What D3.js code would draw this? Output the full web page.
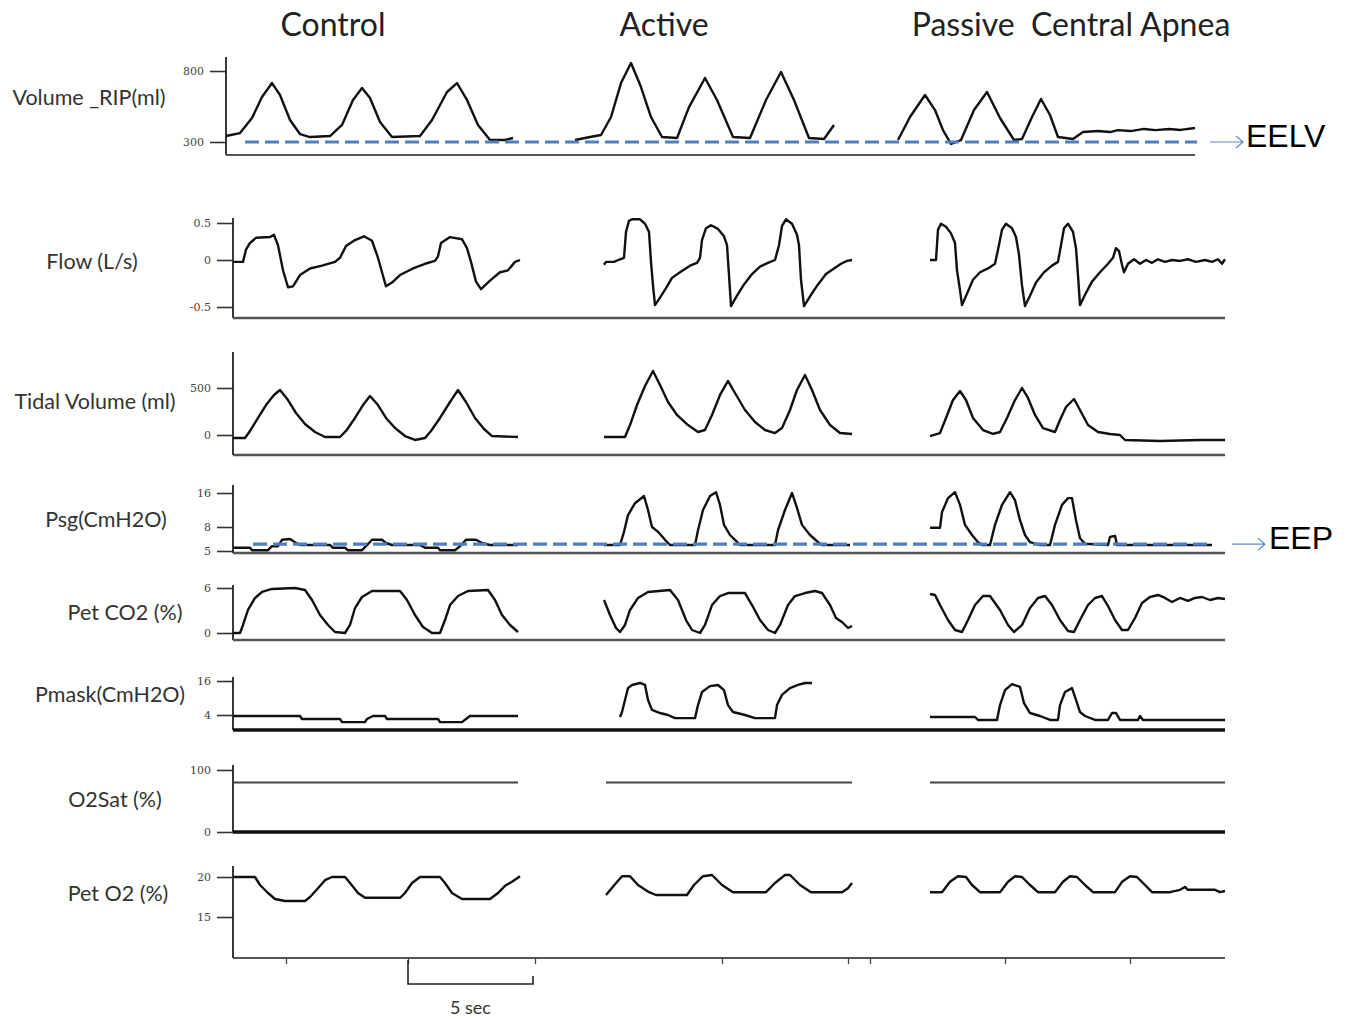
<!DOCTYPE html>
<html>
<head>
<meta charset="utf-8">
<script src="https://cdn.jsdelivr.net/npm/d3@7"></script>
<style>
  body { margin: 0; background: #fff; }
  svg text { font-family: Lato, "Open Sans", sans-serif; }
</style>
</head>
<body>
<svg id="chart" width="1355" height="1019"></svg>
<script>
// phase titles
const titles = ["Control", "Active", "Passive  Central Apnea"];
const titleX = [333, 664, 1071];

// traces: [time (s), value]
const volControl = [[-0.28,342],[0.28,363],[0.76,469],[1.16,617],[1.56,715],[1.88,631],[2.28,455],[2.68,356],[3.08,335],[3.88,342],[4.36,420],[4.8,596],[5.16,680],[5.48,610],[5.88,441],[6.36,335],[7.48,342],[7.96,455],[8.56,652],[8.96,715],[9.36,596],[9.8,420],[10.28,314],[10.88,314],[11.2,328]];
const volActive = [[13.68,314],[14.28,335],[14.72,349],[15.12,476],[15.52,715],[15.92,856],[16.32,687],[16.72,476],[17.16,335],[17.76,328],[18.24,546],[18.88,751],[19.36,596],[20,335],[20.68,328],[21.32,596],[21.92,793],[22.44,596],[23.04,328],[23.64,321],[24.04,420]];
const volPassive = [[26.6,314],[27.08,476],[27.68,631],[28.08,525],[28.4,384],[28.72,286],[29.12,314],[29.64,525],[30.16,652],[30.68,469],[31.24,314],[31.56,321],[31.96,476],[32.32,603],[32.68,490],[33,335],[33.6,321],[34,370],[34.6,377],[35.08,370],[35.4,384],[35.9,377],[36.44,392],[36.9,384],[37.44,392],[37.9,385],[38.48,399]];

const flowControl = [[0,-0.02],[0.4,-0.02],[0.52,0.14],[0.68,0.23],[0.92,0.3],[1.48,0.31],[1.64,0.34],[1.8,0.2],[2,-0.11],[2.2,-0.29],[2.4,-0.28],[2.68,-0.16],[3.08,-0.09],[3.56,-0.06],[4.08,-0.02],[4.28,0.03],[4.52,0.19],[4.88,0.27],[5.24,0.32],[5.56,0.26],[5.8,0.03],[5.96,-0.13],[6.12,-0.28],[6.36,-0.24],[6.68,-0.16],[7.2,-0.09],[7.68,-0.04],[8.08,-0.01],[8.2,0.05],[8.32,0.23],[8.68,0.31],[9.16,0.28],[9.36,0.16],[9.52,-0.02],[9.72,-0.23],[9.92,-0.31],[10.28,-0.22],[10.68,-0.13],[11,-0.11],[11.28,-0.02],[11.48,0]];
const flowActive = [[14.84,-0.05],[14.92,-0.02],[15.24,-0.02],[15.48,0.01],[15.64,0.03],[15.72,0.38],[15.84,0.53],[15.96,0.55],[16.28,0.55],[16.48,0.49],[16.64,0.38],[16.72,-0.02],[16.8,-0.27],[16.88,-0.48],[17.08,-0.4],[17.32,-0.3],[17.56,-0.19],[17.88,-0.13],[18.28,-0.06],[18.56,-0.03],[18.68,0.03],[18.76,0.27],[18.92,0.43],[19.12,0.47],[19.4,0.42],[19.64,0.32],[19.76,0.2],[19.84,-0.16],[19.92,-0.49],[20.16,-0.38],[20.44,-0.26],[20.76,-0.15],[21.08,-0.07],[21.4,-0.03],[21.68,0],[21.84,0.2],[21.96,0.46],[22.12,0.55],[22.36,0.49],[22.56,0.34],[22.64,0.2],[22.72,-0.21],[22.84,-0.49],[23.12,-0.37],[23.4,-0.26],[23.72,-0.15],[24.04,-0.09],[24.32,-0.04],[24.56,-0.01],[24.76,0]];
const flowPassive = [[27.88,0],[28.12,0],[28.2,0.41],[28.32,0.49],[28.52,0.45],[28.72,0.36],[28.88,0.23],[28.96,-0.11],[29.08,-0.32],[29.16,-0.48],[29.36,-0.36],[29.6,-0.21],[29.88,-0.13],[30.2,-0.09],[30.48,-0.04],[30.6,0.14],[30.76,0.41],[30.92,0.49],[31.16,0.43],[31.32,0.31],[31.44,0.07],[31.56,-0.27],[31.68,-0.49],[31.88,-0.38],[32.12,-0.24],[32.44,-0.13],[32.76,-0.06],[33,-0.02],[33.12,0.2],[33.24,0.43],[33.4,0.49],[33.6,0.38],[33.72,0.16],[33.8,-0.16],[33.88,-0.48],[34.08,-0.37],[34.36,-0.23],[34.68,-0.13],[35,-0.04],[35.2,0.03],[35.32,0.16],[35.44,0.12],[35.56,-0.05],[35.64,-0.13],[35.8,-0.04],[36.04,0.01],[36.28,-0.04],[36.52,0],[36.76,-0.03],[37,0.01],[37.28,-0.02],[37.56,0],[37.88,-0.01],[38.2,0.01],[38.52,-0.02],[38.88,0],[39.16,-0.02],[39.4,0.01],[39.56,-0.04],[39.68,0.01]];

const tidalControl = [[0,-32],[0.48,-32],[0.68,43],[1,181],[1.32,319],[1.64,426],[1.88,479],[2.2,372],[2.52,234],[2.88,117],[3.28,32],[3.68,-21],[4.28,-21],[4.52,43],[4.88,181],[5.2,319],[5.48,415],[5.8,319],[6.12,181],[6.48,74],[6.88,-11],[7.28,-53],[7.68,-32],[7.92,43],[8.28,181],[8.68,351],[9,479],[9.32,351],[9.68,181],[10.04,64],[10.36,-11],[11.4,-21]];
const tidalActive = [[14.84,-21],[15.68,-21],[15.88,106],[16.16,319],[16.48,521],[16.8,681],[17.08,532],[17.4,351],[17.76,213],[18.2,106],[18.6,32],[18.88,53],[19.16,213],[19.48,426],[19.8,575],[20.08,447],[20.48,266],[20.88,138],[21.28,53],[21.68,21],[21.96,74],[22.28,266],[22.56,479],[22.88,638],[23.16,479],[23.48,266],[23.88,106],[24.28,21],[24.76,11]];
const tidalPassive = [[27.88,-11],[28.28,21],[28.52,181],[28.8,372],[29.08,468],[29.32,372],[29.6,181],[30,53],[30.4,11],[30.68,32],[30.96,181],[31.28,372],[31.56,500],[31.8,394],[32.08,213],[32.4,74],[32.88,32],[33.08,160],[33.32,298],[33.64,383],[33.88,266],[34.2,106],[34.6,32],[35.08,11],[35.48,0],[35.68,-53],[37.08,-64],[38.68,-53],[39.68,-53]];

const psgControl = [[0,5.4],[0.68,5.4],[0.76,5.1],[1.4,5.1],[1.56,5.6],[1.8,5.6],[1.96,6.4],[2.28,6.5],[2.48,6.1],[2.68,5.75],[3.88,5.75],[4,5.4],[4.48,5.4],[4.6,5.1],[5.16,5.1],[5.32,5.6],[5.56,6.4],[5.96,6.4],[6.12,6],[6.36,5.75],[7.48,5.75],[7.68,5.4],[8.2,5.4],[8.28,5.1],[8.88,5.1],[9.08,5.6],[9.32,6.4],[9.72,6.4],[9.96,6],[10.28,5.75],[11.4,5.75]];
const psgActive = [[14.84,5.75],[15.48,5.75],[15.64,7.4],[15.8,10.8],[16.08,13.6],[16.44,15.3],[16.6,12],[16.76,8],[17,7.4],[17.28,6.4],[17.48,5.75],[18.48,5.75],[18.6,7.6],[18.8,12],[19.08,15.3],[19.32,16.2],[19.48,13.2],[19.64,8.5],[19.88,7],[20.08,6.4],[20.28,5.75],[21.68,5.75],[21.8,7.6],[22.08,12],[22.36,16],[22.56,12.5],[22.76,8.5],[23.08,7],[23.4,6.1],[23.56,5.75],[24.68,5.75]];
const psgPassive = [[27.88,7.9],[28.28,7.9],[28.36,11.5],[28.6,14.8],[28.88,16.2],[29.08,13.2],[29.28,8.5],[29.56,7],[29.8,6.1],[29.96,5.75],[30.28,5.75],[30.48,8.5],[30.76,13.2],[31.08,16.2],[31.28,14.3],[31.48,9.6],[31.68,7],[31.88,6.1],[32.28,5.75],[32.68,5.75],[32.88,8.5],[33.16,13.2],[33.4,14.8],[33.56,14.8],[33.72,9.6],[33.88,6.6],[34.08,5.9],[35,5.75],[35.08,6.75],[35.28,6.9],[35.36,5.75],[39.16,5.75]];

const co2Control = [[0,0],[0.28,0],[0.4,1.07],[0.6,3.07],[0.88,4.67],[1.16,5.47],[1.56,5.87],[2.48,6],[2.88,5.73],[3.16,4.4],[3.48,2.4],[3.8,1.07],[4.08,0.13],[4.48,0],[4.68,1.07],[4.88,3.33],[5.16,4.8],[5.56,5.6],[6.68,5.6],[6.96,4.4],[7.28,2.4],[7.6,0.8],[7.96,0],[8.28,0],[8.48,1.73],[8.68,3.73],[9,4.93],[9.4,5.6],[10.2,5.73],[10.48,4.4],[10.76,2.4],[11.08,1.07],[11.4,0.13]];
const co2Active = [[14.84,4.4],[15.08,2.4],[15.32,0.67],[15.48,0.13],[15.68,1.07],[15.88,3.07],[16.2,4.67],[16.6,5.47],[17.48,5.73],[17.8,4.4],[18.12,1.73],[18.36,0.4],[18.68,0],[18.88,1.07],[19.16,3.73],[19.48,4.93],[19.8,5.33],[20.48,5.33],[20.76,3.73],[21.08,1.73],[21.4,0.4],[21.68,0],[21.88,1.07],[22.2,3.73],[22.48,4.93],[22.88,5.33],[23.28,5.6],[23.56,5.33],[23.88,3.73],[24.12,2],[24.36,1.47],[24.6,0.67],[24.76,0.93]];
const co2Passive = [[27.88,5.2],[28.08,5.07],[28.28,3.73],[28.6,1.73],[28.88,0.4],[29.16,0.13],[29.4,1.73],[29.68,3.73],[30,4.93],[30.28,4.93],[30.68,3.07],[31,1.07],[31.24,0.13],[31.56,1.07],[31.88,3.33],[32.2,4.67],[32.48,4.93],[32.76,3.73],[33.08,1.73],[33.4,0.27],[33.64,0.13],[33.88,1.73],[34.2,3.73],[34.48,4.67],[34.76,4.93],[35,3.6],[35.28,1.73],[35.56,0.4],[35.8,0.4],[36.08,2],[36.36,4],[36.68,4.8],[37,5.07],[37.28,4.67],[37.56,4.13],[37.88,4.67],[38.2,4.27],[38.48,4.67],[38.76,4.8],[39.08,4.4],[39.4,4.67],[39.68,4.53]];

const pmaskControl = [[0,3.65],[2.68,3.65],[2.76,2.6],[4.28,2.6],[4.36,1.5],[5.28,1.5],[5.36,2.6],[5.6,3.65],[6.08,3.65],[6.16,2.6],[8.2,2.6],[8.28,1.5],[9.16,1.5],[9.32,2.6],[9.48,3.65],[11.4,3.65]];
const pmaskActive = [[15.48,3.3],[15.56,5.05],[15.68,9.3],[15.8,13.5],[15.96,14.6],[16.28,15.3],[16.48,14.6],[16.6,9.3],[16.76,5.8],[17.08,4.7],[17.4,4],[17.68,2.9],[18.48,2.9],[18.6,7.5],[18.76,12.1],[19.08,14.2],[19.4,14.6],[19.64,12.8],[19.8,7.5],[20,5.05],[20.48,4],[20.88,2.9],[21.68,2.9],[21.76,7.5],[21.96,11.1],[22.28,13.5],[22.6,14.6],[22.88,15.3],[23.16,15.3]];
const pmaskPassive = [[27.88,3.3],[29.68,3.3],[29.8,2.25],[30.56,2.25],[30.68,7.5],[30.88,12.8],[31.16,14.9],[31.48,13.9],[31.64,8.2],[31.88,4.7],[32.28,3.65],[32.68,2.25],[33,2.25],[33.08,7.5],[33.28,12.1],[33.56,13.5],[33.72,9.3],[33.88,5.05],[34.08,3.65],[34.48,2.25],[35,2.25],[35.16,4.7],[35.32,4.7],[35.48,2.25],[36.2,2.25],[36.28,3.65],[36.4,2.25],[39.68,2.25]];

const satControl = [[0,80],[11.4,80]];
const satActive = [[14.92,80],[24.76,80]];
const satPassive = [[27.88,80],[39.68,80]];

const o2Control = [[0,20],[0.88,20],[1.08,19],[1.4,18],[1.68,17.25],[2.08,17],[2.88,17],[3.08,17.5],[3.4,18.6],[3.68,19.6],[3.96,20],[4.48,20],[4.68,19.25],[5,18],[5.28,17.4],[6.68,17.4],[6.88,18],[7.16,19.25],[7.48,20],[8.28,20],[8.48,19.25],[8.76,18],[9.16,17.25],[10.28,17.25],[10.6,18],[10.88,18.9],[11.16,19.4],[11.48,20.1]];
const o2Active = [[14.92,17.75],[15.28,19.1],[15.56,20.1],[15.88,20.1],[16.2,19],[16.64,18.1],[16.92,17.75],[18.16,17.75],[18.44,19],[18.8,20.1],[19.16,20.25],[19.56,19],[20,18.1],[21.32,18.1],[21.68,19.25],[22.08,20.25],[22.28,20.25],[22.68,19],[23.12,18.1],[24.36,18.1],[24.6,18.6],[24.76,19.25]];
const o2Passive = [[27.88,18.1],[28.36,18.1],[28.68,19.4],[29,20.1],[29.32,20],[29.56,19],[29.88,18.1],[30.68,18.1],[31,19.4],[31.28,20.1],[31.56,20],[31.88,19],[32.2,18.1],[32.88,18.1],[33.2,19.4],[33.48,20.1],[33.76,20],[34.08,19],[34.4,18.1],[35.28,18.1],[35.56,19.4],[35.88,20.1],[36.16,20],[36.48,19],[36.76,18.1],[37.48,18.1],[37.88,18.4],[38.08,18.75],[38.2,18.4],[38.68,18.4],[39.28,18.4],[39.48,18.1],[39.68,18.25]];

// axis ticks
const volTicks = [300, 800];
const flowTicks = [-0.5, 0, 0.5];
const tidalTicks = [0, 500];
const psgTicks = [5, 8, 16];
const co2Ticks = [0, 6];
const pmaskTicks = [4, 16];
const satTicks = [0, 100];
const o2Ticks = [15, 20];
const timeTicks = [2.12, 7, 12.08, 19.56, 24.6, 25.48, 30.88, 35.88];
const scaleBar = [7, 12];

// reference levels
const eelv = 300, eep = 5.85;

const svg = d3.select('#chart');
const x = d3.scaleLinear().domain([0, 39.68]).range([233, 1225]);

const panels = [
  {label: 'Volume _RIP(ml)', lx: 89, ly: 100, ax: 226, top: 57, bottom: 155, right: 1195, ticks: volTicks, px: [142, 71], base: 2, series: [volControl, volActive, volPassive]},
  {label: 'Flow (L/s)', lx: 92, ly: 264, ax: 233, top: 218, bottom: 318, right: 1225, ticks: flowTicks, px: [307, 260, 223], base: 2.5, series: [flowControl, flowActive, flowPassive]},
  {label: 'Tidal Volume (ml)', lx: 95, ly: 404, ax: 233, top: 352, bottom: 455, right: 1225, ticks: tidalTicks, px: [435, 388], base: 2.5, series: [tidalControl, tidalActive, tidalPassive]},
  {label: 'Psg(CmH2O)', lx: 106, ly: 522, ax: 233, top: 485, bottom: 553, right: 1225, ticks: psgTicks, px: [551, 527, 493], base: 2.5, series: [psgControl, psgActive, psgPassive]},
  {label: 'Pet CO2 (%)', lx: 125, ly: 615, ax: 233, top: 585, bottom: 640, right: 1225, ticks: co2Ticks, px: [633, 588], base: 2.5, series: [co2Control, co2Active, co2Passive]},
  {label: 'Pmask(CmH2O)', lx: 110, ly: 697, ax: 233, top: 677, bottom: 730, right: 1225, ticks: pmaskTicks, px: [715, 681], base: 3.5, series: [pmaskControl, pmaskActive, pmaskPassive]},
  {label: 'O2Sat (%)', lx: 115, ly: 802, ax: 233, top: 765, bottom: 832, right: 1225, ticks: satTicks, px: [832, 770], base: 3.5, series: [satControl, satActive, satPassive]},
  {label: 'Pet O2 (%)', lx: 118, ly: 896, ax: 233, top: 866, bottom: 958, right: 1225, ticks: o2Ticks, px: [917, 877], base: 2, series: [o2Control, o2Active, o2Passive]}
];

// titles
svg.selectAll('text.title')
  .data(titles)
  .enter()
  .append('text')
  .attr('class', 'title')
  .attr('x', (d, i) => titleX[i])
  .attr('y', 36)
  .attr('text-anchor', 'middle')
  .attr('font-size', 32)
  .attr('fill', '#222')
  .style('white-space', 'pre')
  .text(d => d);

panels.forEach((p, pi) => {
  p.y = d3.scaleLinear().domain(p.ticks).range(p.px);
  const g = svg.append('g');

  g.append('text')
    .attr('x', p.lx).attr('y', p.ly)
    .attr('text-anchor', 'middle')
    .attr('dominant-baseline', 'middle')
    .attr('font-size', 21.5)
    .attr('fill', '#333')
    .text(p.label);

  const ax = g.append('g')
    .attr('transform', `translate(${p.ax},0)`)
    .call(d3.axisLeft(p.y).tickValues(p.ticks).tickSize(16).tickPadding(6).tickFormat(d => String(d)));
  ax.select('.domain').remove();
  ax.selectAll('line').attr('stroke', '#333').attr('stroke-width', 1.6);
  ax.selectAll('text').attr('font-size', 11).attr('fill', '#444')
    .style('font-family', '"DejaVu Serif", serif');

  // frame
  g.append('line')
    .attr('x1', p.ax).attr('x2', p.ax).attr('y1', p.top).attr('y2', p.bottom)
    .attr('stroke', '#222').attr('stroke-width', 1.8);
  g.append('line')
    .attr('x1', p.ax).attr('x2', p.right).attr('y1', p.bottom).attr('y2', p.bottom)
    .attr('stroke', p.base > 3 ? '#111' : '#555').attr('stroke-width', p.base);

  const line = d3.line().x(d => x(d[0])).y(d => p.y(d[1]));
  g.selectAll('path.trace')
    .data(p.series)
    .enter()
    .append('path')
    .attr('class', 'trace')
    .attr('d', line)
    .attr('fill', 'none')
    .attr('stroke', pi === 6 ? '#444' : '#111')
    .attr('stroke-width', pi === 6 ? 2 : 2.4)
    .attr('stroke-linejoin', 'round');
});

// reference dashed lines with arrows and labels
const refs = [
  {p: panels[0], v: eelv, t0: 0.48, t1: 38.56, ax0: 1210, ax1: 1243, text: 'EELV', tx: 1246},
  {p: panels[3], v: eep, t0: 0.8, t1: 39.16, ax0: 1232, ax1: 1265, text: 'EEP', tx: 1269}
];
refs.forEach(r => {
  const yy = r.p.y(r.v);
  svg.append('line')
    .attr('x1', x(r.t0)).attr('x2', x(r.t1)).attr('y1', yy).attr('y2', yy)
    .attr('stroke', '#4f7fc0').attr('stroke-width', 3.2)
    .attr('stroke-dasharray', '14,6');
  svg.append('path')
    .attr('d', `M${r.ax0},${yy}H${r.ax1}M${r.ax1 - 7},${yy - 6}L${r.ax1},${yy}L${r.ax1 - 7},${yy + 6}`)
    .attr('fill', 'none').attr('stroke', '#5b8bd0').attr('stroke-width', 1.2);
  svg.append('text')
    .attr('x', r.tx).attr('y', yy + 5)
    .attr('font-size', 32)
    .style('font-family', '"Liberation Sans", Arial, sans-serif')
    .attr('fill', '#000')
    .text(r.text);
});

// time ticks on the last panel
const last = panels[7];
const xa = svg.append('g')
  .attr('transform', `translate(0,${last.bottom})`)
  .call(d3.axisBottom(x).tickValues(timeTicks).tickSize(6).tickFormat(''));
xa.select('.domain').remove();
xa.selectAll('line').attr('stroke', '#444').attr('stroke-width', 1.3);

// 5 sec scale bar
const sb = svg.append('g');
sb.append('path')
  .attr('d', `M${x(scaleBar[0])},${last.bottom + 2}V984H${x(scaleBar[1])}V${last.bottom + 18}`)
  .attr('fill', 'none').attr('stroke', '#222').attr('stroke-width', 1.6);
sb.append('text')
  .attr('x', (x(scaleBar[0]) + x(scaleBar[1])) / 2)
  .attr('y', 1014)
  .attr('text-anchor', 'middle')
  .attr('font-size', 18)
  .attr('fill', '#333')
  .text((scaleBar[1] - scaleBar[0]) + ' sec');
</script>
</body>
</html>
